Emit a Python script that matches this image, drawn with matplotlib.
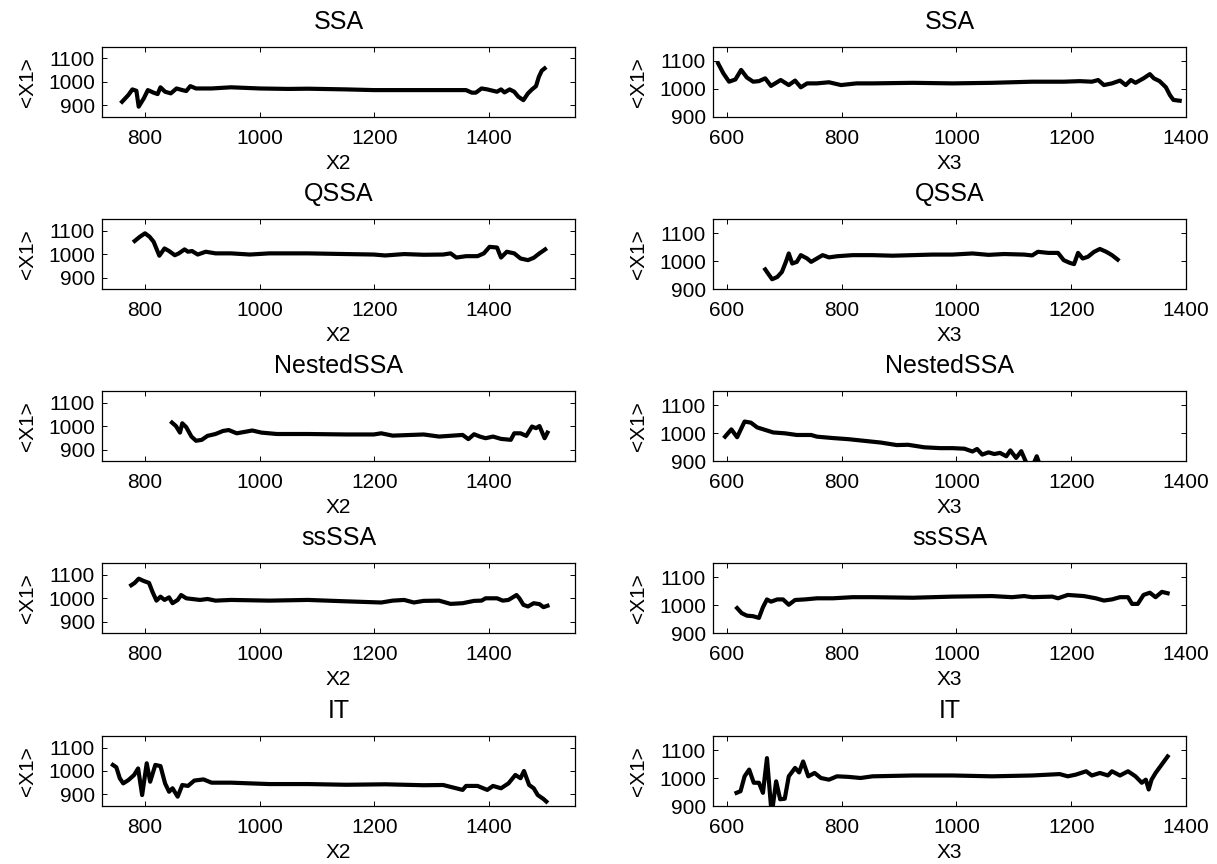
import matplotlib
matplotlib.use("Agg")
import matplotlib.pyplot as plt

plt.rcParams["font.family"] = ["Liberation Sans", "DejaVu Sans"]

titles = ["SSA", "QSSA", "NestedSSA", "ssSSA", "IT"]

# ---- left column: <X1> against X2 ----
ssa_x2 = [760, 771, 778, 785, 789, 798, 805, 815, 822, 827, 835, 845, 855, 865, 872, 879, 889,
          916, 950, 1000, 1050, 1084, 1151, 1199, 1252, 1320, 1360, 1370, 1377, 1387, 1397, 1407,
          1414, 1421, 1427, 1436, 1444, 1451, 1460, 1468, 1475, 1482, 1487, 1492, 1497]
ssa_x1_a = [914, 943, 967, 961, 893, 929, 964, 953, 947, 976, 957, 950, 971, 964, 960, 981, 971,
            971, 976, 971, 969, 970, 967, 964, 964, 964, 964, 953, 953, 971, 967, 961,
            957, 967, 954, 967, 957, 936, 921, 950, 967, 981, 1021, 1047, 1057]

qssa_x2 = [782, 791, 800, 808, 815, 825, 834, 842, 852, 859, 869, 875, 882, 892, 906, 923, 950,
           983, 1017, 1051, 1084, 1151, 1199, 1219, 1252, 1286, 1320, 1333, 1343, 1360, 1380, 1391,
           1401, 1414, 1421, 1431, 1444, 1455, 1468, 1478, 1488, 1498]
qssa_x1_a = [1057, 1075, 1090, 1075, 1054, 994, 1025, 1014, 996, 1004, 1021, 1011, 1014, 999, 1011,
             1004, 1004, 999, 1004, 1004, 1004, 1001, 999, 995, 1001, 998, 999, 1004, 986, 992, 992,
             1004, 1032, 1029, 986, 1011, 1004, 982, 975, 985, 1004, 1021]

nested_x2 = [847, 854, 861, 865, 872, 881, 889, 899, 909, 923, 936, 946, 960, 976, 987, 1003, 1030,
             1084, 1151, 1199, 1212, 1232, 1286, 1313, 1354, 1364, 1374, 1384, 1394, 1407, 1421,
             1438, 1444, 1455, 1465, 1475, 1482, 1488, 1497, 1502]
nested_x1_a = [1016, 1001, 973, 1013, 996, 956, 938, 942, 959, 967, 980, 984, 970, 977, 982, 973,
               967, 967, 965, 965, 970, 960, 965, 956, 963, 945, 966, 956, 949, 956, 946,
               942, 970, 970, 959, 999, 992, 1001, 949, 973]

ss_x2 = [776, 782, 789, 798, 807, 813, 820, 827, 834, 842, 848, 857, 863, 872, 882, 896, 909, 923,
         950, 1017, 1084, 1151, 1212, 1232, 1252, 1269, 1286, 1313, 1333, 1354, 1374, 1387, 1394,
         1414, 1424, 1434, 1448, 1453, 1460, 1468, 1478, 1488, 1495, 1502]
ss_x1_a = [1056, 1066, 1084, 1074, 1066, 1028, 990, 1007, 993, 1004, 979, 993, 1014, 1000, 997, 993,
           997, 990, 993, 990, 993, 987, 982, 990, 993, 982, 989, 990, 976, 979, 989, 990, 1000,
           1000, 990, 993, 1014, 1000, 972, 965, 979, 975, 962, 968]

it_x2 = [744, 750, 756, 762, 771, 781, 788, 795, 803, 809, 818, 827, 835, 842, 848, 857, 865, 875,
         886, 902, 916, 950, 983, 1017, 1084, 1151, 1219, 1286, 1320, 1354, 1360, 1380, 1397, 1407,
         1421, 1434, 1446, 1455, 1461, 1470, 1478, 1485, 1495, 1500]
it_x1_a = [1026, 1016, 969, 947, 961, 983, 1011, 897, 1033, 954, 1026, 1021, 947, 911, 926, 890,
           940, 936, 959, 964, 950, 950, 947, 944, 944, 941, 943, 939, 940, 919, 936, 936, 919,
           936, 926, 947, 983, 969, 1000, 940, 926, 897, 880, 869]

# ---- right column: <X1> against X3 ----
ssa_x3 = [585, 594, 604, 615, 625, 635, 646, 656, 667, 677, 694, 708, 719, 729, 740, 757, 778,
          799, 826, 854, 924, 993, 1062, 1132, 1187, 1215, 1236, 1247, 1257, 1271, 1285, 1295,
          1304, 1312, 1326, 1337, 1344, 1354, 1365, 1372, 1378, 1389]
ssa_x1_b = [1090, 1055, 1025, 1033, 1067, 1040, 1025, 1027, 1037, 1010, 1031, 1013, 1029, 1005,
            1019, 1019, 1023, 1013, 1019, 1019, 1021, 1019, 1021, 1025, 1025, 1027, 1025, 1031,
            1013, 1019, 1029, 1013, 1031, 1021, 1037, 1052, 1037, 1027, 1005, 977, 960, 957]

qssa_x3 = [667, 672, 679, 688, 696, 703, 708, 714, 722, 729, 740, 747, 757, 767, 778, 792, 819,
           854, 889, 924, 958, 993, 1028, 1056, 1083, 1118, 1132, 1142, 1160, 1177, 1187, 1198,
           1205, 1212, 1220, 1229, 1240, 1250, 1261, 1271, 1281]
qssa_x1_b = [971, 956, 936, 944, 962, 998, 1028, 992, 998, 1022, 1010, 998, 1010, 1022, 1014, 1018,
             1022, 1022, 1020, 1022, 1024, 1024, 1028, 1023, 1026, 1024, 1021, 1034, 1030, 1030,
             1004, 994, 990, 1030, 1010, 1016, 1034, 1044, 1034, 1022, 1006]

nested_x3 = [597, 608, 618, 631, 642, 653, 667, 681, 701, 722, 747, 757, 785, 812, 840, 868, 896,
             916, 944, 972, 993, 1014, 1028, 1036, 1045, 1056, 1066, 1076, 1087, 1094, 1104, 1113,
             1122, 1130, 1140, 1150]
nested_x1_b = [988, 1014, 986, 1042, 1038, 1021, 1012, 1003, 1000, 994, 994, 988, 983, 979, 973,
               967, 958, 959, 950, 947, 947, 945, 935, 944, 924, 932, 926, 930, 918, 939, 912, 936,
               894, 870, 918, 860]

ss_x3 = [618, 626, 635, 646, 656, 663, 670, 677, 688, 698, 708, 719, 736, 757, 785, 819, 854, 924,
         993, 1062, 1097, 1118, 1132, 1167, 1177, 1194, 1222, 1243, 1257, 1271, 1285, 1299, 1306,
         1316, 1326, 1337, 1347, 1358, 1368]
ss_x1_b = [990, 972, 963, 961, 955, 993, 1021, 1013, 1021, 1021, 1002, 1019, 1021, 1025, 1025, 1029,
           1029, 1027, 1031, 1033, 1029, 1033, 1029, 1031, 1025, 1037, 1033, 1025, 1017, 1021, 1029,
           1029, 1005, 1005, 1037, 1045, 1029, 1048, 1043]

it_x3 = [617, 624, 631, 639, 647, 656, 663, 670, 677, 679, 686, 693, 701, 708, 719, 726, 733, 742,
         753, 764, 778, 792, 812, 833, 854, 924, 993, 1062, 1132, 1180, 1194, 1208, 1226, 1236,
         1250, 1264, 1271, 1285, 1299, 1312, 1323, 1330, 1335, 1340, 1347, 1368]
it_x1_b = [947, 953, 1006, 1030, 983, 983, 947, 1071, 900, 882, 988, 924, 926, 1006, 1036, 1020,
           1059, 1006, 1018, 1000, 994, 1006, 1004, 1000, 1006, 1009, 1009, 1006, 1009, 1014, 1006,
           1012, 1024, 1009, 1018, 1009, 1024, 1009, 1024, 1006, 983, 994, 959, 994, 1018, 1077]

left_series = [(ssa_x2, ssa_x1_a), (qssa_x2, qssa_x1_a), (nested_x2, nested_x1_a),
               (ss_x2, ss_x1_a), (it_x2, it_x1_a)]
right_series = [(ssa_x3, ssa_x1_b), (qssa_x3, qssa_x1_b), (nested_x3, nested_x1_b),
                (ss_x3, ss_x1_b), (it_x3, it_x1_b)]

W, H = 1217, 864
fig = plt.figure(figsize=(W / 100, H / 100), dpi=100)

row_tops = [46.7, 219.3, 391.3, 563.3, 736.0]
ax_h = 70.0
left_px = (102, 473)
right_px = (713, 473)


def style(ax, xlim, ylim, xticks, yticks, xlabel, title):
    ax.set_xlim(*xlim)
    ax.set_ylim(*ylim)
    ax.set_xticks(xticks)
    ax.set_yticks(yticks)
    ax.tick_params(direction="in", length=3.5, width=0.7, top=True, right=True,
                   labelsize=15)
    ax.tick_params(axis="x", pad=8.5)
    ax.tick_params(axis="y", pad=5)
    for sp in ax.spines.values():
        sp.set_linewidth(0.9)
    ax.set_xlabel(xlabel, fontsize=15, labelpad=4.5)
    ax.set_ylabel("<X1>", fontsize=15, labelpad=8)
    ax.set_title(title, fontsize=18, pad=13)


for i in range(5):
    top = row_tops[i]
    y0 = (H - top - ax_h) / H
    axl = fig.add_axes([left_px[0] / W, y0, left_px[1] / W, ax_h / H])
    xs, ys = left_series[i]
    axl.plot(xs, ys, color="black", linewidth=3)
    style(axl, (725, 1550), (850, 1150), [800, 1000, 1200, 1400], [900, 1000, 1100],
          "X2", titles[i])

    axr = fig.add_axes([right_px[0] / W, y0, right_px[1] / W, ax_h / H])
    xs, ys = right_series[i]
    axr.plot(xs, ys, color="black", linewidth=3)
    style(axr, (576, 1400), (900, 1150), [600, 800, 1000, 1200, 1400], [900, 1000, 1100],
          "X3", titles[i])

fig.savefig("out.png", dpi=100)
